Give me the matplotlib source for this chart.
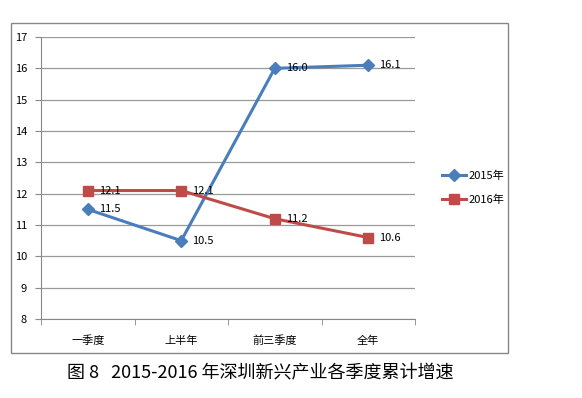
import matplotlib.pyplot as plt
from matplotlib.patches import Rectangle

plt.rcParams['font.family'] = ['Noto Sans CJK SC', 'DejaVu Sans']

categories = ["一季度", "上半年", "前三季度", "全年"]
values_2015 = [11.5, 10.5, 16.0, 16.1]
values_2016 = [12.1, 12.1, 11.2, 10.6]
series_names = ["2015年", "2016年"]
caption = "图 8   2015-2016 年深圳新兴产业各季度累计增速"

blue = "#4A7EBB"
red = "#BE4B48"

fig = plt.figure(figsize=(5.82, 3.98), dpi=100)
W, H = 582, 398

# outer chart border
fig.patches.append(Rectangle((11 / W, 1 - 353 / H), (508 - 11) / W, (353 - 23) / H,
                             transform=fig.transFigure, fill=False,
                             edgecolor="#888888", linewidth=1.0))

ax = fig.add_axes([41 / W, 1 - 319 / H, (415 - 41) / W, (319 - 37) / H])
x = range(len(categories))

ax.plot(x, values_2015, color=blue, linewidth=2.2, marker="D", markersize=6,
        label=series_names[0], zorder=3)
ax.plot(x, values_2016, color=red, linewidth=2.2, marker="s", markersize=7,
        label=series_names[1], zorder=3)

for xi, v in zip(x, values_2015):
    ax.annotate(f"{v:.1f}", (xi, v), xytext=(8, 0), textcoords="offset points",
                va="center", ha="left", fontsize=8, zorder=4)
for xi, v in zip(x, values_2016):
    ax.annotate(f"{v:.1f}", (xi, v), xytext=(8, 0), textcoords="offset points",
                va="center", ha="left", fontsize=8, zorder=4)

ax.set_xlim(-0.5, len(categories) - 0.5)
ax.set_ylim(8, 17)
ax.set_yticks(range(8, 18))
ax.yaxis.grid(True, color="#999999", linewidth=0.9)
ax.set_axisbelow(True)

ax.set_xticks(list(x))
ax.set_xticklabels(categories, fontsize=8)
ax.set_xticks([i - 0.5 for i in range(len(categories) + 1)], minor=True)
ax.tick_params(axis="x", which="major", length=0, pad=12)
ax.tick_params(axis="x", which="minor", length=4, color="#888888")
ax.tick_params(axis="y", length=4, color="#888888", labelsize=8, pad=6)

for side in ["top", "right"]:
    ax.spines[side].set_visible(False)
for side in ["left", "bottom"]:
    ax.spines[side].set_color("#888888")

fig.legend(loc="center left", bbox_to_anchor=(432 / W, 1 - 188 / H), frameon=False,
           fontsize=8, handlelength=2.2, handletextpad=0.2, labelspacing=1.2)

fig.text(260 / W, 1 - 373 / H, caption, ha="center", va="center", fontsize=13,
         fontweight="medium")

fig.savefig("out.png", dpi=100)
